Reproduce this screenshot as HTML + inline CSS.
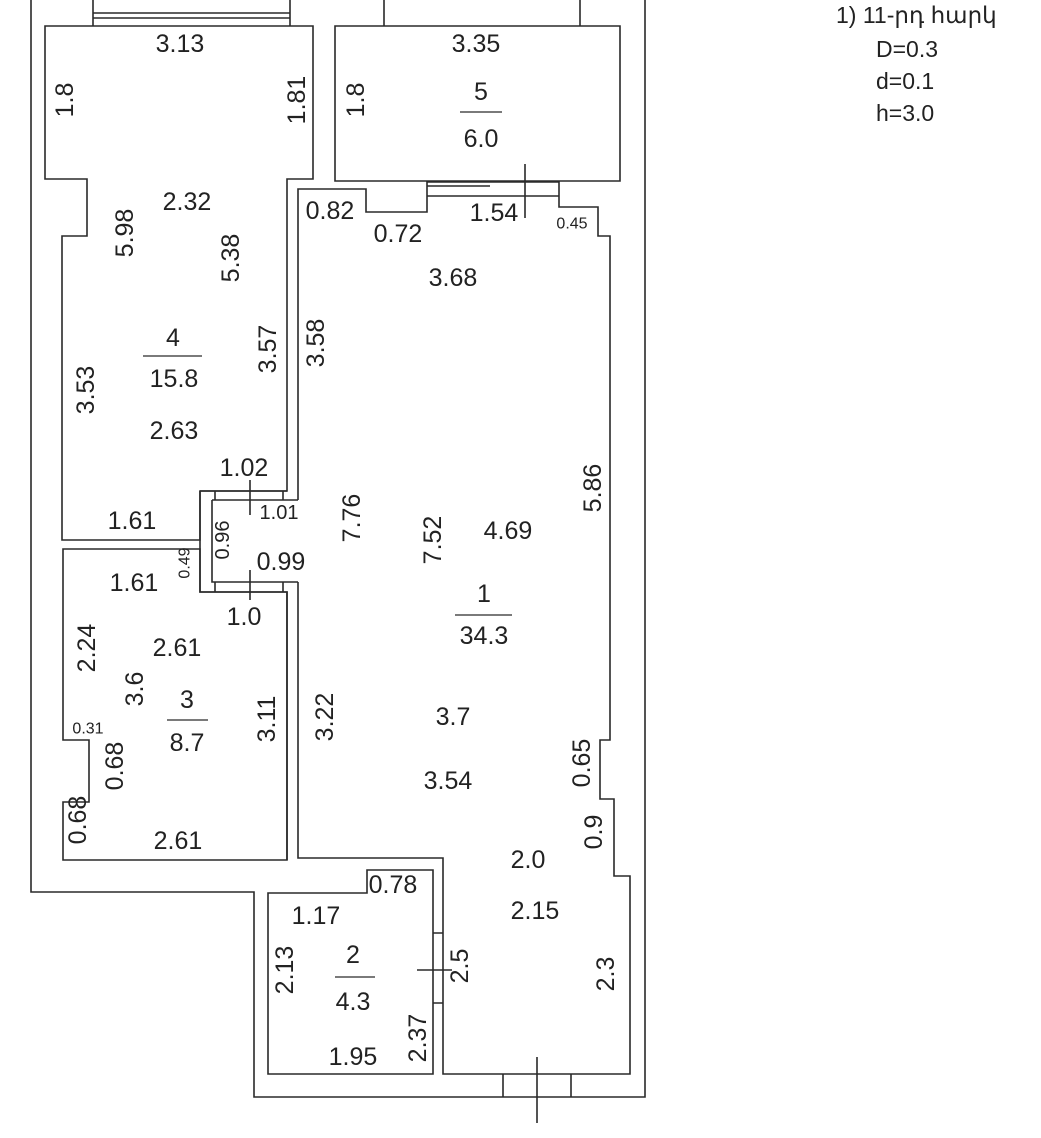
<!DOCTYPE html>
<html><head><meta charset="utf-8"><style>
html,body{margin:0;padding:0;background:#fff;}
svg{display:block;}
text{font-family:"Liberation Sans","DejaVu Sans",sans-serif;fill:#222;font-size:25px;text-anchor:middle;dominant-baseline:central;}
.s{font-size:16px;}
.m{font-size:20px;}
.l{text-anchor:start;font-size:23px;}
</style></head><body>
<svg width="1041" height="1138" viewBox="0 0 1041 1138" xmlns="http://www.w3.org/2000/svg">
<g fill="none" stroke="#2a2a2a" stroke-width="1.6">
<path d="M31 0 V892 H254 V1097 H645 V0"/>
<path d="M93 0 V26 M290 0 V26 M93 13 H290 M93 18 H290"/>
<path d="M384 0 V26 M580 0 V26"/>
<path d="M45 26 H313 V179 H287 V491 H200 V540 H62 V236 H87 V179 H45 Z"/>
<path d="M335 26 H620 V181 H335 Z"/>
<path d="M298 500 V189 H366 V212 H427 V182 H559 V207 H598 V236 H610 V740 H600 V799 H614 V876 H630 V1074 H443 V858 H298 V582"/>
<path d="M427 186 H490 M427 196 H559 M525 164 V218"/>
<path d="M200 491 V592 H287 V860 M212 500 V582 H298 M200 491 H287 M212 500 H298 M200 592 H287"/>
<path d="M250 480 V515 M215 491 V500 M283 491 V500 M250 570 V600 M215 582 V592 M283 582 V592"/>
<path d="M63 549 H200 V592 H287 V860 H63 V802 H89 V740 H63 Z"/>
<path d="M268 893 H367 V870 H433 V1074 H268 Z"/>
<path d="M433 933 H443 M433 1003 H443 M417 970 H452"/>
<path d="M503 1074 V1097 M571 1074 V1097 M537 1057 V1123"/>
<path d="M460 112 H502 M143 356 H202 M455 615 H512 M167 720 H208 M335 977 H375" stroke-width="1.2"/>
</g>
<text x="180" y="44">3.13</text>
<text x="476" y="44">3.35</text>
<text transform="translate(65,100) rotate(-90)">1.8</text>
<text transform="translate(297,100) rotate(-90)">1.81</text>
<text transform="translate(356,100) rotate(-90)">1.8</text>
<text x="481" y="92">5</text>
<text x="481" y="139">6.0</text>
<text x="187" y="202">2.32</text>
<text transform="translate(125,233) rotate(-90)">5.98</text>
<text transform="translate(231,258) rotate(-90)">5.38</text>
<text x="330" y="211">0.82</text>
<text x="398" y="234">0.72</text>
<text x="494" y="213">1.54</text>
<text x="572" y="224" class="s">0.45</text>
<text x="453" y="278">3.68</text>
<text transform="translate(268,349) rotate(-90)">3.57</text>
<text transform="translate(316,343) rotate(-90)">3.58</text>
<text x="173" y="338">4</text>
<text x="174" y="379">15.8</text>
<text transform="translate(86,390) rotate(-90)">3.53</text>
<text x="174" y="431">2.63</text>
<text x="244" y="468">1.02</text>
<text x="279" y="513" class="m">1.01</text>
<text x="132" y="521">1.61</text>
<text transform="translate(352,518) rotate(-90)">7.76</text>
<text transform="translate(433,540) rotate(-90)">7.52</text>
<text x="508" y="531">4.69</text>
<text transform="translate(593,488) rotate(-90)">5.86</text>
<text transform="translate(223,540) rotate(-90)" class="m">0.96</text>
<text x="281" y="562">0.99</text>
<text transform="translate(185,563) rotate(-90)" class="s">0.49</text>
<text x="134" y="583">1.61</text>
<text x="244" y="617">1.0</text>
<text x="484" y="594">1</text>
<text x="484" y="636">34.3</text>
<text transform="translate(87,648) rotate(-90)">2.24</text>
<text x="177" y="648">2.61</text>
<text transform="translate(135,689) rotate(-90)">3.6</text>
<text x="187" y="700">3</text>
<text x="187" y="743">8.7</text>
<text transform="translate(267,719) rotate(-90)">3.11</text>
<text transform="translate(325,717) rotate(-90)">3.22</text>
<text x="453" y="717">3.7</text>
<text x="88" y="729" class="s">0.31</text>
<text transform="translate(115,766) rotate(-90)">0.68</text>
<text transform="translate(582,763) rotate(-90)">0.65</text>
<text x="448" y="781">3.54</text>
<text transform="translate(78,820) rotate(-90)">0.68</text>
<text x="178" y="841">2.61</text>
<text transform="translate(594,832) rotate(-90)">0.9</text>
<text x="528" y="860">2.0</text>
<text x="393" y="885">0.78</text>
<text x="316" y="916">1.17</text>
<text x="535" y="911">2.15</text>
<text x="353" y="955">2</text>
<text x="353" y="1002">4.3</text>
<text transform="translate(285,970) rotate(-90)">2.13</text>
<text transform="translate(460,966) rotate(-90)">2.5</text>
<text transform="translate(606,974) rotate(-90)">2.3</text>
<text transform="translate(418,1038) rotate(-90)">2.37</text>
<text x="353" y="1057">1.95</text>
<text x="836" y="15" class="l">1) 11-րդ հարկ</text>
<text x="876" y="49" class="l">D=0.3</text>
<text x="876" y="81" class="l">d=0.1</text>
<text x="876" y="113" class="l">h=3.0</text>
</svg>
</body></html>
